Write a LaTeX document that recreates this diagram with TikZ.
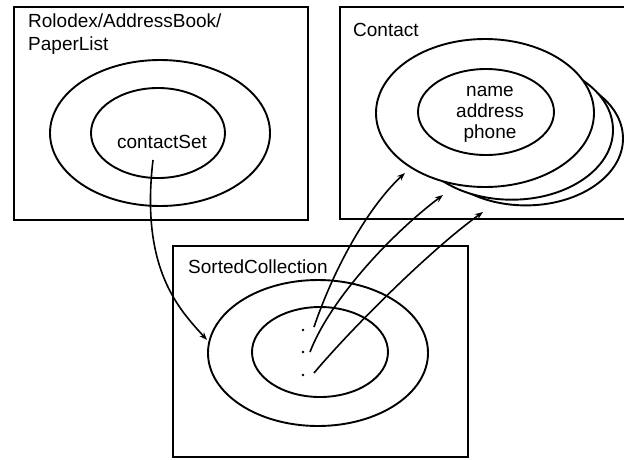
\documentclass[tikz,border=0pt]{standalone}
\usepackage{fontspec}
\setmainfont{Liberation Sans}
\usetikzlibrary{arrows.meta}
\tikzset{
  box/.style={draw, line width=2.5pt},
  ell/.style={draw, line width=1.9pt},
  label/.style={inner sep=0pt, font=\fontsize{19}{23}\selectfont},
  link/.style={line width=1.6pt, -{Stealth[length=8pt,width=6pt]}},
  dotmark/.style={fill, circle, inner sep=0pt, minimum size=2.8pt},
}
\begin{document}
\begin{tikzpicture}[x=1pt,y=-1pt]
\useasboundingbox (0,0) rectangle (624,459);
\begin{scope}
\clip (0,0) rectangle (624,459);
% boxes
\draw[box] (14,7) rectangle (308,220);
\draw[box] (340,7) rectangle (640,219);
\draw[box] (173,246) rectangle (468,457);
% Rolodex box
\draw[ell] (160,133) ellipse [x radius=110, y radius=73];
\draw[ell] (158,133) ellipse [x radius=67, y radius=45];
\node[label, anchor=north west, align=left] (rolo) at (28,14) {Rolodex/AddressBook/\\PaperList};
\node[label] (cset) at (162,142) {contactSet};
\coordinate (csstart) at (153,160);
% Contact box
\node[label, anchor=base west] (contact) at (353,36) {Contact};
\draw[ell, fill=white] (525.8,138.5) ellipse [x radius=97.2, y radius=66.9];
\draw[ell, fill=white] (511.7,130) ellipse [x radius=101.3, y radius=69.7];
\draw[ell, fill=white] (485,113) ellipse [x radius=109, y radius=74];
\draw[ell] (486,112) ellipse [x radius=68, y radius=43];
\node[label, align=center, font=\fontsize{19}{21}\selectfont] (fields) at (490,114) {name\\address\\phone};
\coordinate (t1) at (405,173);
\coordinate (t2) at (443,195);
\coordinate (t3) at (483,212);
% SortedCollection box
\node[label, anchor=base west] (sorted) at (188,273) {SortedCollection};
\draw[ell] (318,353) ellipse [x radius=110, y radius=73];
\draw[ell] (320,352) ellipse [x radius=68, y radius=45];
\node[dotmark] (d1) at (303,330) {};
\node[dotmark] (d2) at (303,352) {};
\node[dotmark] (d3) at (303,375) {};
\coordinate (s1) at (314,327);
\coordinate (s2) at (310,352);
\coordinate (s3) at (314,373);
\coordinate (sctip) at (207,340);
% connectors
\draw[link] (csstart) .. controls (140,270) and (180,310) .. (sctip);
\draw[link] (s1) .. controls (335,265) and (370,205) .. (t1);
\draw[link] (s2) .. controls (330,300) and (390,235) .. (t2);
\draw[link] (s3) .. controls (350,330) and (430,250) .. (t3);
\end{scope}
\end{tikzpicture}
\end{document}
